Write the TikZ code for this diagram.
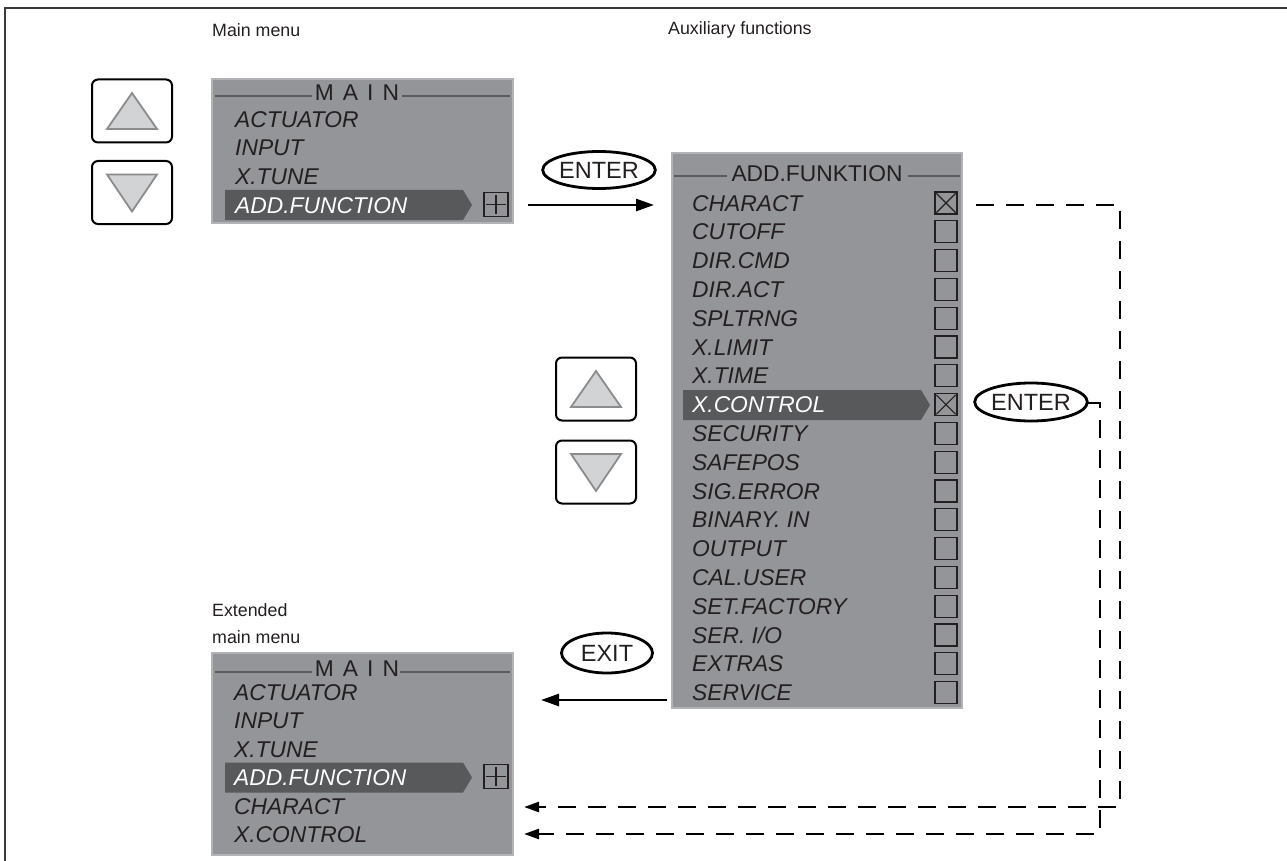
\documentclass[tikz,border=0pt]{standalone}
\usepackage{fontspec}
\setmainfont{Liberation Sans}
\usetikzlibrary{arrows.meta,shapes.geometric,calc}
\definecolor{boxgray}{HTML}{939598}
\definecolor{boxedge}{HTML}{B1B3B6}
\definecolor{bardark}{HTML}{58595B}
\definecolor{titleline}{HTML}{5A5B5D}
\definecolor{txt}{HTML}{231F20}
\definecolor{trifill}{HTML}{D1D3D4}
\definecolor{triedge}{HTML}{8A8C8E}
\definecolor{framecol}{HTML}{3A3A3A}
\tikzset{
 menubox/.style={draw=boxedge, fill=boxgray, line width=2pt, inner sep=0},
 item/.style={anchor=west, inner sep=0, text height=16.3pt, text depth=0pt, font=\fontsize{22.8}{25}\selectfont\itshape, text=txt},
 selitem/.style={item, text=white},
 menutitle/.style={inner sep=0, text height=16.3pt, text depth=0pt, font=\fontsize{22.8}{25}\selectfont, text=txt},
 tline/.style={draw=titleline, line width=2.2pt},
 selbar/.style={fill=bardark},
 chk/.style={draw=txt, line width=1.3pt, minimum size=22pt, inner sep=0},
 keybtn/.style={draw=black, line width=2pt, rounded corners=6pt, minimum width=80pt, minimum height=63pt, inner sep=0},
 tri/.style={fill=trifill, draw=triedge, line width=1.8pt},
 keyoval/.style={ellipse, draw=black, line width=2.8pt, inner sep=0, font=\fontsize{23.5}{26}\selectfont, text=txt},
 lab/.style={anchor=west, inner sep=0, font=\fontsize{17.8}{27}\selectfont, text=txt, align=left},
 flow/.style={line width=2.6pt, -{Triangle[length=18pt,width=12pt]}},
 dflow/.style={line width=2.6pt, dash pattern=on 18pt off 12pt, -{Triangle[length=15pt,width=10pt]}},
}
\newcommand{\upkey}[3]{%
  \node[keybtn] (#1) at (#2,#3) {};
  \draw[tri] ($(#1.center)+(0,-18)$) -- ($(#1.center)+(25,18)$) -- ($(#1.center)+(-25,18)$) -- cycle;}
\newcommand{\downkey}[3]{%
  \node[keybtn] (#1) at (#2,#3) {};
  \draw[tri] ($(#1.center)+(-25,-18)$) -- ($(#1.center)+(25,-18)$) -- ($(#1.center)+(0,19)$) -- cycle;}
\begin{document}
\begin{tikzpicture}[x=1pt,y=-1pt]
\useasboundingbox (0,0) rectangle (1287,861);
% frame
\draw[framecol, line width=2.2pt] (5,861) -- (5,8) -- (1287,8);

% labels
\node[lab] (lmain) at (212,30) {Main menu};
\node[lab] (laux) at (668,30) {Auxiliary functions};
\node[lab] (lext) at (212,624) {Extended\\main menu};

% keys
\upkey{up1}{132}{111}
\downkey{dn1}{132}{192.5}
\upkey{up2}{596}{389}
\downkey{dn2}{596}{472}

% ---------- main menu 1
\node[menubox, minimum width=301pt, minimum height=144pt] (m1) at (362.5,151) {};
\node[menutitle] (m1t) at (357,92) {M\kern0.4em A\kern0.4em I\kern0.4em N};
\draw[tline] (215,96) -- (312,96) (402,96) -- (510,96);
\fill[selbar] (225,190) -- (463,190) -- (472,205) -- (463,220) -- (225,220) -- cycle;
\node[item] (m1a) at (235,119) {ACTUATOR};
\node[item] (m1b) at (235,147.5) {INPUT};
\node[item] (m1c) at (235,176) {X.TUNE};
\node[selitem] (m1d) at (235,205) {ADD.FUNCTION};
\node[chk, minimum size=24pt] (p1) at (496,204.5) {};
\draw[txt, line width=1.2pt] ($(p1.north)+(0,3)$) -- ($(p1.south)+(0,-3)$) ($(p1.west)+(3,0)$) -- ($(p1.east)+(-3,0)$);

% ---------- ENTER 1
\node[keyoval, minimum width=92pt, minimum height=37pt] (ent1) at (599,170) {ENTER};

% ---------- ADD.FUNKTION
\node[menubox, minimum width=290pt, minimum height=555pt] (af) at (817,430.5) {};
\node[menutitle] (aft) at (817,173) {ADD.FUNKTION};
\draw[tline] (674,176) -- (727,176) (908,176) -- (960,176);
\fill[selbar] (683,390) -- (921,390) -- (930,405) -- (921,420) -- (683,420) -- cycle;
\foreach \t/\c [count=\i from 0] in {CHARACT/txt, CUTOFF/txt, DIR.CMD/txt, DIR.ACT/txt, SPLTRNG/txt, X.LIMIT/txt, X.TIME/txt, X.CONTROL/white, SECURITY/txt, SAFEPOS/txt, SIG.ERROR/txt, BINARY. IN/txt, OUTPUT/txt, CAL.USER/txt, SET.FACTORY/txt, {SER. I/O}/txt, EXTRAS/txt, SERVICE/txt} {
  \pgfmathsetmacro{\yy}{203+28.8*\i}
  \node[item, text=\c] (a\i) at (692,\yy) {\t};
  \node[chk] (c\i) at (946,\yy) {};
}
\draw[txt, line width=1.1pt] ($(c0.north west)+(2,2)$) -- ($(c0.south east)+(-2,-2)$) ($(c0.north east)+(-2,2)$) -- ($(c0.south west)+(2,-2)$);
\draw[txt, line width=1.1pt] ($(c7.north west)+(2,2)$) -- ($(c7.south east)+(-2,-2)$) ($(c7.north east)+(-2,2)$) -- ($(c7.south west)+(2,-2)$);

% ---------- ENTER 2
\node[keyoval, minimum width=93pt, minimum height=38pt] (ent2) at (1031,402) {ENTER};

% ---------- EXIT
\node[keyoval, minimum width=91pt, minimum height=40pt] (ex) at (607,653) {EXIT};

% ---------- main menu 2
\node[menubox, minimum width=301pt, minimum height=202pt] (m2) at (362.5,754) {};
\node[menutitle] (m2t) at (357,668) {M\kern0.4em A\kern0.4em I\kern0.4em N};
\draw[tline] (215,672) -- (312,672) (400,672) -- (510,672);
\fill[selbar] (225,762.5) -- (463,762.5) -- (472,777.5) -- (463,792.5) -- (225,792.5) -- cycle;
\node[item] (m2a) at (234,692) {ACTUATOR};
\node[item] (m2b) at (234,720.5) {INPUT};
\node[item] (m2c) at (234,749) {X.TUNE};
\node[selitem] (m2d) at (234,777.5) {ADD.FUNCTION};
\node[item] (m2e) at (234,806) {CHARACT};
\node[item] (m2f) at (234,834.5) {X.CONTROL};
\node[chk, minimum size=24pt] (p2) at (496,776.5) {};
\draw[txt, line width=1.2pt] ($(p2.north)+(0,3)$) -- ($(p2.south)+(0,-3)$) ($(p2.west)+(3,0)$) -- ($(p2.east)+(-3,0)$);

% ---------- connectors
\coordinate (e1s) at (528,205);
\coordinate (e1t) at (654,205);
\draw[flow] (e1s) -- (e1t);
\coordinate (exs) at (667,700);
\coordinate (ext) at (541,700);
\draw[flow] (exs) -- (ext);
\coordinate (d1s) at (976,205);
\coordinate (d1a) at (1120,205);
\coordinate (d1b) at (1120,807);
\coordinate (d1t) at (524,807);
\draw[dflow] (d1s) -- (d1a) -- (d1b) -- (d1t);
\coordinate (d2s) at (1087,403);
\coordinate (d2a) at (1100,403);
\coordinate (d2b) at (1100,834);
\coordinate (d2t) at (524,834);
\draw[dflow] (d2s) -- (d2a) -- (d2b) -- (d2t);
\end{tikzpicture}
\end{document}
